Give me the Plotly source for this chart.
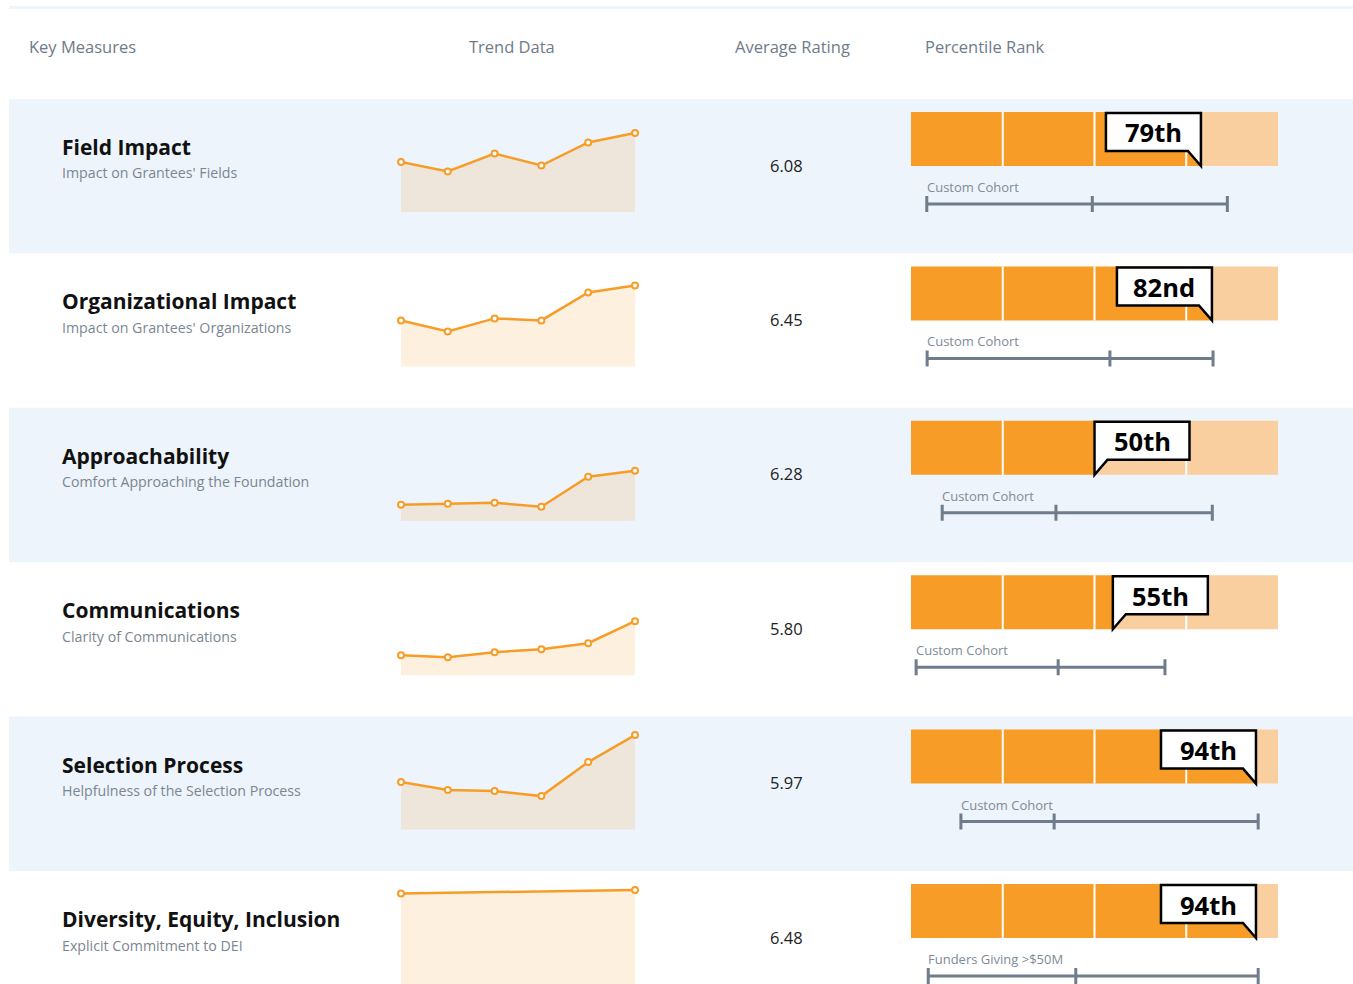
import plotly.graph_objects as go

# ---------------- data ----------------
headers = ["Key Measures", "Trend Data", "Average Rating", "Percentile Rank"]
measures = ["Field Impact", "Organizational Impact", "Approachability",
            "Communications", "Selection Process", "Diversity, Equity, Inclusion"]
descriptions = ["Impact on Grantees' Fields", "Impact on Grantees' Organizations",
                "Comfort Approaching the Foundation", "Clarity of Communications",
                "Helpfulness of the Selection Process", "Explicit Commitment to DEI"]
trend_field = [6.00, 5.81, 6.17, 5.93, 6.39, 6.58]
trend_org = [5.92, 5.70, 5.96, 5.92, 6.48, 6.62]
trend_approach = [5.32, 5.34, 5.36, 5.28, 5.88, 6.00]
trend_comm = [5.40, 5.36, 5.46, 5.52, 5.64, 6.08]
trend_selection = [5.95, 5.79, 5.77, 5.67, 6.35, 6.89]
trend_dei = [6.81, 6.88]
trends = [trend_field, trend_org, trend_approach, trend_comm, trend_selection, trend_dei]
avg_rating = [6.08, 6.45, 6.28, 5.80, 5.97, 6.48]
percentile = [79, 82, 50, 55, 94, 94]
cohort_names = ["Custom Cohort", "Custom Cohort", "Custom Cohort", "Custom Cohort",
                "Custom Cohort", "Funders Giving >$50M"]
cohort_low = [4.3, 4.4, 8.5, 1.4, 13.6, 4.7]
cohort_mid = [49.4, 54.2, 39.5, 40.1, 39.0, 44.9]
cohort_high = [86.2, 82.3, 82.1, 69.2, 94.6, 94.6]

# ---------------- layout constants ----------------
W, H = 1353, 984
ROW0, ROWH = 99, 154.4
BAND_X0 = 9
SPARK_X = (401, 635)
SPARK_TOP, SPARK_BOT = 13, 113
SPARK_RANGE = [5, 7]
PCT_X = (911, 1278)
U = 100.0 / (PCT_X[1] - PCT_X[0])  # percentile units per pixel

ORANGE = "#f79d27"
LIGHT = "#f9cf9f"
BLUE = "#edf4fb"
SLATE = "#6f7c8b"
FONT = "Open Sans"


def px_x(x):
    return x / W


def px_y(y):
    return 1 - y / H


def ordinal(n):
    if 10 <= n % 100 <= 20:
        suf = "th"
    else:
        suf = {1: "st", 2: "nd", 3: "rd"}.get(n % 10, "th")
    return f"{n}{suf}"


fig = go.Figure()
shapes = []
annotations = []
layout_axes = {}

# top line
shapes.append(dict(type="rect", xref="paper", yref="paper", x0=px_x(BAND_X0), x1=1,
                   y0=px_y(9), y1=px_y(6), fillcolor=BLUE, line_width=0, layer="below"))

# headers
hdr_pos = [(29, "left"), (512, "center"), (792, "center"), (925, "left")]
for txt, (hx, anc) in zip(headers, hdr_pos):
    annotations.append(dict(text=txt, x=px_x(hx), y=px_y(47), xref="paper", yref="paper",
                            xanchor=anc, yanchor="middle", showarrow=False,
                            xshift=-2 if anc == "left" else 0,
                            font=dict(family=FONT, size=16.5, color="#6f7b88")))

for i in range(len(measures)):
    top = ROW0 + i * ROWH
    bot = min(top + ROWH, H)
    if i % 2 == 0:
        shapes.append(dict(type="rect", xref="paper", yref="paper", x0=px_x(BAND_X0), x1=1,
                           y0=px_y(bot), y1=px_y(top), fillcolor=BLUE, line_width=0,
                           layer="below"))
    # labels
    annotations.append(dict(text=f"<b>{measures[i]}</b>", x=px_x(62), y=px_y(top + 48),
                            xref="paper", yref="paper", xanchor="left", yanchor="middle",
                            xshift=-2, showarrow=False,
                            font=dict(family=FONT, size=21, color="#111111")))
    annotations.append(dict(text=descriptions[i], x=px_x(62), y=px_y(top + 74),
                            xref="paper", yref="paper", xanchor="left", yanchor="middle",
                            xshift=-2, showarrow=False,
                            font=dict(family=FONT, size=14.2, color="#7b8692")))
    annotations.append(dict(text=f"{avg_rating[i]:.2f}", x=px_x(786), y=px_y(top + 66),
                            xref="paper", yref="paper", xanchor="center", yanchor="middle",
                            showarrow=False, font=dict(family=FONT, size=16.5, color="#222222")))

    # ---- sparkline subplot ----
    ks = 2 * i + 1
    xa = "x" if ks == 1 else f"x{ks}"
    ya = "y" if ks == 1 else f"y{ks}"
    vals = trends[i]
    fig.add_trace(go.Scatter(
        x=list(range(len(vals))), y=vals, xaxis=xa, yaxis=ya,
        mode="lines+markers", fill="tozeroy", fillcolor="rgba(247,157,39,0.15)",
        line=dict(color=ORANGE, width=2.5),
        marker=dict(symbol="circle", size=6, color="white", line=dict(color=ORANGE, width=2)),
        cliponaxis=False, showlegend=False, hoverinfo="skip"))
    sb = min(top + SPARK_BOT, H)
    layout_axes["xaxis" if ks == 1 else f"xaxis{ks}"] = dict(
        domain=[px_x(SPARK_X[0]), px_x(SPARK_X[1])], range=[0, len(vals) - 1],
        visible=False, fixedrange=True, anchor=ya)
    layout_axes["yaxis" if ks == 1 else f"yaxis{ks}"] = dict(
        domain=[px_y(sb), px_y(top + SPARK_TOP)], range=SPARK_RANGE,
        visible=False, fixedrange=True, anchor=xa)

    # ---- percentile subplot ----
    kp = 2 * i + 2
    xp, yp = f"x{kp}", f"y{kp}"
    pb = min(top + 125, H)
    layout_axes[f"xaxis{kp}"] = dict(domain=[px_x(PCT_X[0]), px_x(PCT_X[1])], range=[0, 100],
                                     visible=False, fixedrange=True, anchor=yp)
    layout_axes[f"yaxis{kp}"] = dict(domain=[px_y(pb), px_y(top)], range=[pb - top, 0],
                                     visible=False, fixedrange=True, anchor=xp)
    p = percentile[i]
    fig.add_trace(go.Bar(x=[p], base=[0], y=[40], width=[54], orientation="h",
                         marker=dict(color=ORANGE, line_width=0), xaxis=xp, yaxis=yp,
                         showlegend=False, hoverinfo="skip"))
    fig.add_trace(go.Bar(x=[100 - p], base=[p], y=[40], width=[54], orientation="h",
                         marker=dict(color=LIGHT, line_width=0), xaxis=xp, yaxis=yp,
                         showlegend=False, hoverinfo="skip"))
    for q in (25, 50, 75):
        shapes.append(dict(type="line", xref=xp, yref=yp, x0=q, x1=q, y0=13, y1=67,
                           line=dict(color="white", width=2)))
    # callout bubble
    bw, tw = 95 * U, 13 * U
    if p > 60:
        x0, x1 = p - bw, p
        path = (f"M {x0},14 L {x1},14 L {x1},67 L {x1 - tw},52 L {x0},52 Z")
    else:
        x0, x1 = p, p + bw
        path = (f"M {x0},14 L {x1},14 L {x1},52 L {x0 + tw},52 L {x0},67 Z")
    shapes.append(dict(type="path", xref=xp, yref=yp, path=path, fillcolor="white",
                       line=dict(color="black", width=2.5)))
    annotations.append(dict(text=f"<b>{ordinal(p)}</b>", x=(x0 + x1) / 2, y=33.5,
                            xref=xp, yref=yp, xanchor="center", yanchor="middle",
                            showarrow=False, font=dict(family=FONT, size=25.5, color="black")))
    # cohort range
    lo, mid, hi = cohort_low[i], cohort_mid[i], cohort_high[i]
    annotations.append(dict(text=cohort_names[i], x=lo, y=88, xref=xp, yref=yp,
                            xanchor="left", yanchor="middle", xshift=-2, showarrow=False,
                            font=dict(family=FONT, size=13, color="#808b97")))
    fig.add_trace(go.Scatter(x=[lo, hi], y=[105, 105], mode="lines", xaxis=xp, yaxis=yp,
                             line=dict(color=SLATE, width=3), showlegend=False,
                             hoverinfo="skip", cliponaxis=False))
    fig.add_trace(go.Scatter(x=[lo, lo, None, mid, mid, None, hi, hi],
                             y=[97, 113, None, 97, 113, None, 97, 113],
                             mode="lines", xaxis=xp, yaxis=yp,
                             line=dict(color=SLATE, width=3), showlegend=False,
                             hoverinfo="skip", cliponaxis=False))

fig.update_layout(
    width=W, height=H, margin=dict(l=0, r=0, t=0, b=0, pad=0),
    paper_bgcolor="white", plot_bgcolor="rgba(0,0,0,0)",
    barmode="overlay", showlegend=False,
    shapes=shapes, annotations=annotations,
    font=dict(family=FONT),
    **layout_axes)

fig.write_html("out.html", config={"displayModeBar": False, "staticPlot": True},
               post_script="document.body.style.margin='0';document.body.style.overflow='hidden';")
